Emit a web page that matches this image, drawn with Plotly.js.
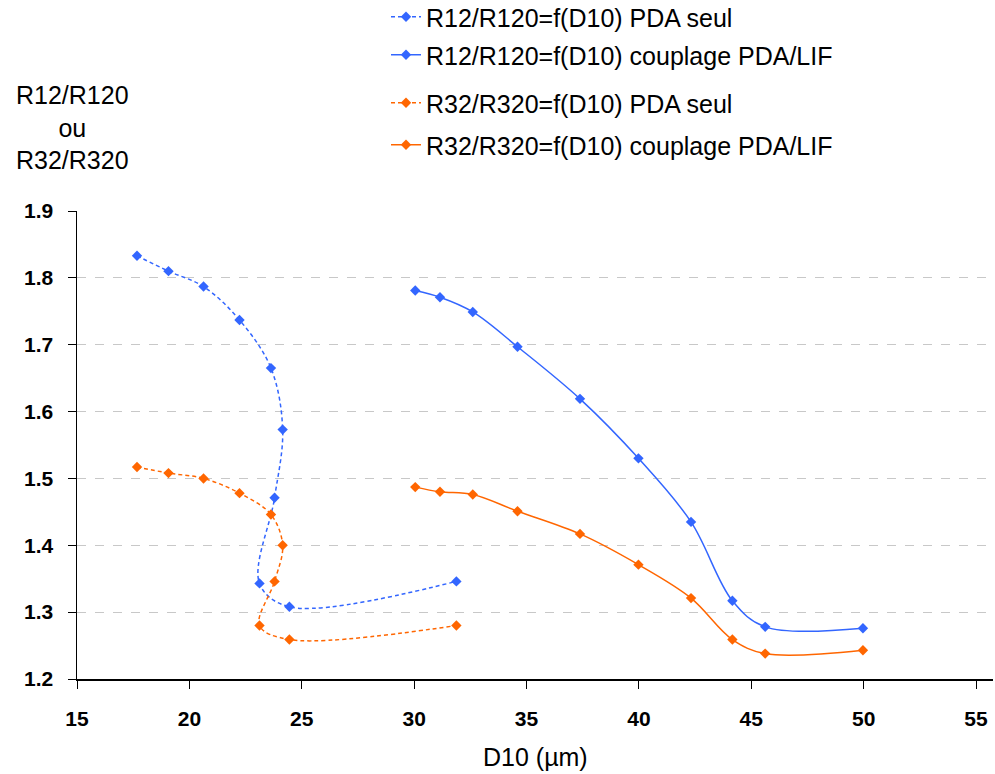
<!DOCTYPE html>
<html>
<head>
<meta charset="utf-8">
<script src="https://cdn.plot.ly/plotly-3.0.1.min.js"></script>
<style>html,body{margin:0;padding:0;background:#fff;}#chart{width:995px;height:774px;}</style>
</head>
<body>
<div id="chart"></div>
<script>
// D10 values (µm)
const d10PdaSeul = [17.67, 19.07, 20.63, 22.23, 23.63, 24.15, 23.79, 23.12, 24.45, 31.88];
const d10Couplage = [30.05, 31.15, 32.61, 34.60, 37.38, 39.98, 42.32, 44.16, 45.62, 49.97];
// Ratios
const r12PdaSeul = [1.833, 1.810, 1.787, 1.737, 1.665, 1.573, 1.471, 1.343, 1.308, 1.346];
const r12Couplage = [1.781, 1.771, 1.749, 1.697, 1.619, 1.530, 1.435, 1.317, 1.278, 1.276];
const r32PdaSeul = [1.517, 1.508, 1.500, 1.478, 1.446, 1.400, 1.346, 1.280, 1.259, 1.280];
const r32Couplage = [1.487, 1.480, 1.476, 1.451, 1.417, 1.371, 1.321, 1.259, 1.238, 1.243];
// Labels
const seriesNames = [
  "R12/R120=f(D10) PDA seul",
  "R12/R120=f(D10) couplage PDA/LIF",
  "R32/R320=f(D10) PDA seul",
  "R32/R320=f(D10) couplage PDA/LIF"
];
const xTicks = [15, 20, 25, 30, 35, 40, 45, 50, 55];
const yTicks = [1.2, 1.3, 1.4, 1.5, 1.6, 1.7, 1.8, 1.9];
const yTitle = "R12/R120<br>ou<br>R32/R320";
const xTitle = "D10 (µm)";

const BLUE = "#3366FF", ORANGE = "#FF6600";
const FONT = "Liberation Sans, Arial, sans-serif";

function tr(x, y, name, color, dashed, legendId) {
  return {
    x: x, y: y, name: name, type: "scatter", mode: "lines+markers",
    legend: legendId,
    line: {color: color, width: 1.5, shape: "spline", smoothing: 1, dash: dashed ? "4px,3px" : "solid"},
    marker: {symbol: "diamond", size: 8, color: color}
  };
}

const data = [
  tr(d10PdaSeul, r12PdaSeul, seriesNames[0], BLUE, true, "legend"),
  tr(d10Couplage, r12Couplage, seriesNames[1], BLUE, false, "legend2"),
  tr(d10PdaSeul, r32PdaSeul, seriesNames[2], ORANGE, true, "legend3"),
  tr(d10Couplage, r32Couplage, seriesNames[3], ORANGE, false, "legend4")
];

const L = 77, R = 993, T = 211, B = 679;
const W = 995, H = 774;
const ph = B - T;
const pw = R - L;

function leg(py) {
  return {
    x: (386 - L) / pw, y: (B - py) / ph, xanchor: "left", yanchor: "middle",
    font: {size: 25, family: FONT, color: "#000"}, bgcolor: "rgba(0,0,0,0)"
  };
}

const layout = {
  width: W, height: H,
  margin: {l: L, r: W - R, t: T, b: H - B, pad: 0, autoexpand: false},
  paper_bgcolor: "#fff", plot_bgcolor: "#fff",
  font: {family: FONT, color: "#000"},
  showlegend: true,
  legend: leg(17),
  legend2: leg(55),
  legend3: leg(103),
  legend4: leg(145),
  xaxis: {
    range: [15, 15 + (R - L) / 22.475],
    tickvals: xTicks, ticktext: xTicks.map(String),
    ticks: "outside", ticklen: 8, tickcolor: "#000", tickwidth: 1,
    showline: true, linecolor: "#000", linewidth: 1.5,
    showgrid: false, zeroline: false,
    tickfont: {size: 21, family: FONT, weight: "bold", color: "#000"},
    ticklabelstandoff: 12
  },
  yaxis: {
    range: [1.2, 1.9],
    tickvals: yTicks, ticktext: yTicks.map(v => v.toFixed(1)),
    ticks: "outside", ticklen: 8, tickcolor: "#000", tickwidth: 1,
    showline: true, linecolor: "#000", linewidth: 1.5,
    showgrid: true, gridcolor: "#C8C8C8", griddash: "dash", gridwidth: 1,
    zeroline: false,
    tickfont: {size: 21, family: FONT, weight: "bold", color: "#000"},
    ticklabelstandoff: 10
  },
  annotations: [
    {text: yTitle, xref: "paper", yref: "paper", x: (72 - L) / pw, y: (B - 128) / ph,
     xanchor: "center", yanchor: "middle", showarrow: false, align: "center",
     font: {size: 25, family: FONT, color: "#000"}},
    {text: xTitle, xref: "paper", yref: "paper", x: (535 - L) / pw, y: (B - 757) / ph,
     xanchor: "center", yanchor: "middle", showarrow: false,
     font: {size: 25, family: FONT, color: "#000"}}
  ]
};

Plotly.newPlot("chart", data, layout, {displayModeBar: false, staticPlot: true});
</script>
</body>
</html>
